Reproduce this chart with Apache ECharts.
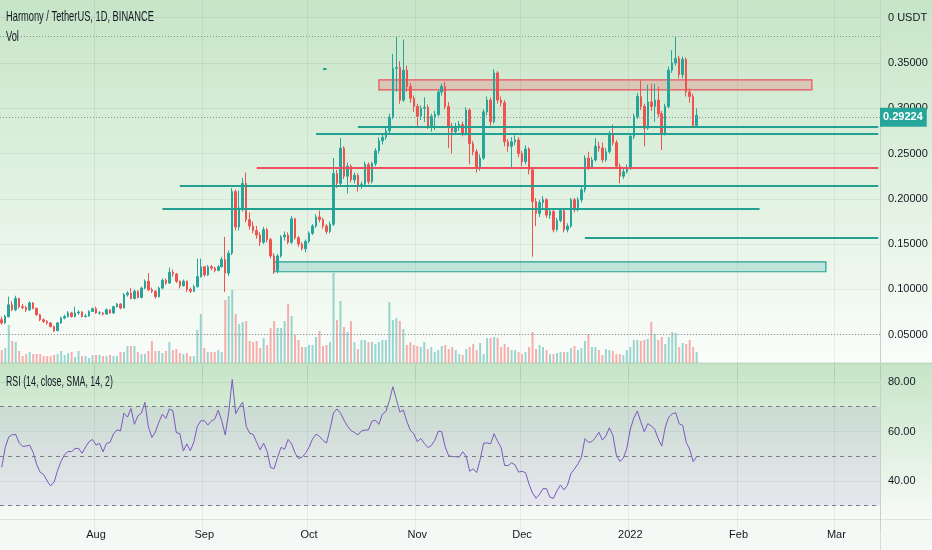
<!DOCTYPE html>
<html><head><meta charset="utf-8">
<script src="https://cdn.jsdelivr.net/npm/echarts@6/dist/echarts.min.js"></script>
<style>html,body{margin:0;padding:0;background:#fff}#c{width:932px;height:550px}</style>
</head><body><div id="c"></div>
<script>
// ---------- data ----------
const startDate = [2021, 6, 5];      // 2021-07-05, first daily candle
const totalDays = 252;               // visible time range up to 2022-03-13
const firstOpen = 0.0666;
const closes = [
0.0630,0.0700,0.0830,0.0775,0.0900,0.0810,0.0800,0.0775,0.0850,0.0790,
0.0720,0.0665,0.0647,0.0630,0.0590,0.0544,0.0630,0.0684,0.0700,0.0740,
0.0700,0.0740,0.0750,0.0700,0.0706,0.0757,0.0787,0.0740,0.0740,0.0728,
0.0775,0.0740,0.0810,0.0838,0.0794,0.0940,0.0960,0.0900,0.0980,0.0912,
0.1015,0.1090,0.0996,0.0980,0.0920,0.1015,0.1100,0.1070,0.1190,0.1170,
0.1090,0.1040,0.1090,0.1000,0.0980,0.1030,0.1140,0.1250,0.1160,0.1250,
0.1235,0.1210,0.1250,0.1330,0.1180,0.1400,0.2080,0.1690,0.1900,0.2170,
0.1770,0.1700,0.1650,0.1600,0.1520,0.1660,0.1550,0.1370,0.1210,0.1370,
0.1580,0.1600,0.1520,0.1780,0.1570,0.1500,0.1450,0.1530,0.1620,0.1700,
0.1800,0.1770,0.1700,0.1640,0.1720,0.2280,0.2170,0.2560,0.2250,0.2360,
0.2210,0.2260,0.2140,0.2160,0.2380,0.2190,0.2390,0.2530,0.2640,0.2680,
0.2750,0.2900,0.3440,0.3450,0.3090,0.3420,0.3240,0.3110,0.3020,0.2910,
0.3000,0.3010,0.2800,0.2910,0.2930,0.3180,0.3240,0.3020,0.2800,0.2740,
0.2800,0.2820,0.2720,0.2980,0.2610,0.2520,0.2350,0.2450,0.2960,0.3090,
0.2850,0.3390,0.3090,0.3060,0.2630,0.2580,0.2630,0.2650,0.2500,0.2410,
0.2550,0.2320,0.1970,0.1840,0.1960,0.1990,0.1820,0.1860,0.1660,0.1760,
0.1870,0.1660,0.1700,0.1990,0.1880,0.1990,0.2100,0.2450,0.2350,0.2430,
0.2580,0.2560,0.2430,0.2520,0.2720,0.2620,0.2360,0.2250,0.2300,0.2340,
0.2690,0.2910,0.3130,0.3020,0.2780,0.3070,0.3020,0.3090,0.2940,0.2720,
0.3020,0.3420,0.3500,0.3550,0.3370,0.3540,0.3180,0.3130,0.2810,0.29224];
const highs = [
.070,.072,.092,.087,.093,.091,.084,.082,.087,.086,
.080,.073,.068,.066,.064,.060,.064,.070,.072,.076,
.075,.081,.077,.076,.073,.077,.080,.081,.076,.075,
.079,.078,.082,.085,.085,.096,.098,.1015,.100,.099,
.103,.111,.118,.102,.099,.103,.112,.112,.124,.122,
.118,.110,.111,.110,.102,.105,.134,.134,.126,.127,
.127,.125,.127,.136,.158,.143,.212,.210,.209,.223,
.229,.185,.175,.170,.163,.169,.168,.157,.140,.139,
.160,.164,.163,.181,.179,.159,.152,.155,.164,.172,
.183,.187,.179,.172,.175,.245,.232,.267,.258,.240,
.238,.229,.228,.219,.241,.240,.241,.256,.268,.272,
.279,.294,.360,.379,.352,.376,.347,.328,.314,.305,
.303,.312,.304,.294,.297,.321,.327,.329,.307,.284,
.284,.286,.285,.301,.300,.264,.255,.249,.299,.313,
.312,.343,.341,.313,.309,.266,.268,.270,.268,.253,
.259,.257,.235,.201,.199,.203,.201,.190,.188,.179,
.190,.189,.173,.201,.201,.202,.213,.248,.252,.246,
.267,.263,.262,.256,.275,.282,.265,.239,.233,.238,
.272,.294,.317,.331,.305,.326,.327,.327,.324,.297,
.305,.346,.364,.379,.358,.357,.356,.322,.316,.300];
const lows = [
.061,.062,.069,.076,.076,.079,.078,.075,.076,.078,
.071,.065,.063,.061,.058,.053,.054,.062,.067,.069,
.069,.069,.072,.069,.069,.070,.075,.073,.072,.071,
.072,.073,.073,.080,.078,.079,.092,.089,.089,.090,
.090,.100,.098,.096,.090,.091,.100,.105,.106,.114,
.107,.101,.103,.097,.096,.097,.102,.113,.114,.115,
.121,.119,.120,.124,.097,.115,.138,.165,.165,.186,
.174,.166,.162,.156,.148,.150,.152,.134,.117,.118,
.135,.154,.150,.150,.155,.147,.143,.141,.151,.160,
.168,.174,.167,.161,.162,.170,.212,.215,.222,.206,
.218,.217,.208,.211,.214,.216,.217,.236,.250,.260,
.265,.272,.288,.318,.305,.307,.318,.306,.296,.280,
.287,.285,.277,.274,.276,.291,.314,.299,.256,.250,
.271,.275,.269,.270,.238,.248,.229,.231,.243,.292,
.281,.283,.305,.302,.258,.252,.235,.259,.246,.236,
.238,.227,.136,.170,.180,.190,.179,.178,.163,.164,
.174,.163,.163,.168,.185,.186,.196,.207,.232,.233,
.241,.252,.240,.241,.250,.259,.233,.217,.222,.228,
.232,.266,.288,.298,.258,.276,.297,.285,.290,.254,
.270,.300,.339,.347,.333,.333,.313,.306,.279,.279];
const volumes = [ // millions
130,150,380,220,210,120,70,90,110,90,
90,90,70,70,70,80,90,120,80,100,
110,60,120,70,70,50,80,80,80,70,
70,80,70,70,110,110,170,170,170,110,
90,90,120,220,120,120,100,
120,210,130,140,100,90,100,70,70,330,
490,150,110,110,110,130,110,630,670,730,
490,390,410,420,220,210,220,150,250,180,
350,420,350,350,420,590,470,280,230,
160,160,180,180,260,320,170,180,210,900,
430,620,360,310,420,210,140,230,230,210,
210,190,210,230,230,610,430,450,420,340,
180,210,180,170,160,210,140,160,110,130,
170,180,140,160,130,90,80,140,160,190,
130,200,90,250,250,260,250,160,190,160,
130,130,110,90,110,160,310,
140,180,160,130,90,90,100,110,110,110,150,170,130,
150,220,290,160,160,130,80,140,130,120,90,90,80,
130,160,230,230,220,230,240,410,290,230,260,190,260,310,300,160,200,190,230,160,110];
const rsiValues = [
45.5,53.6,57.8,58.7,58.8,55.4,54.0,54.1,54.5,51.5,
46.7,43.5,42.6,40.0,38.0,39.6,44.3,48.0,50.7,51.9,
51.9,53.1,53.2,51.2,53.7,55.9,56.8,54.5,55.2,51.8,
55.2,55.6,59.0,60.7,60.2,67.4,65.8,69.3,62.9,66.4,
67.4,71.8,61.8,57.6,59.8,63.8,67.0,65.3,69.1,68.4,
59.5,59.2,52.1,55.0,52.2,55.7,62.1,64.3,64.4,62.6,
64.2,65.0,68.6,64.3,58.6,67.8,81.0,67.2,69.8,71.9,
62.1,59.3,58.8,55.6,52.6,55.3,51.9,45.4,45.0,49.6,
53.6,52.8,56.8,55.0,51.3,49.1,49.6,51.2,53.6,57.0,
58.9,58.0,56.4,55.3,61.0,67.5,69.1,67.5,64.6,62.2,
60.4,59.6,58.6,60.2,60.6,60.6,64.1,64.6,62.9,67.0,
68.1,72.4,78.1,73.0,67.9,68.6,64.1,60.5,59.1,55.9,
57.2,55.2,53.5,54.3,56.4,60.1,59.9,53.7,50.2,49.9,
49.8,49.7,51.8,50.0,44.0,44.9,43.4,48.7,55.3,55.4,
55.0,59.1,56.0,53.5,46.3,46.2,47.4,46.5,43.6,43.9,
43.4,38.7,35.1,33.0,34.6,36.9,36.9,33.4,33.0,36.1,
38.4,36.4,38.3,43.0,44.8,46.9,49.6,57.1,55.6,55.9,
57.5,59.7,56.5,58.2,61.5,58.5,50.5,47.9,49.2,53.2,
61.0,65.4,68.3,63.9,59.9,63.2,62.2,60.9,57.0,54.1,
61.7,65.8,67.1,67.6,63.1,62.5,55.6,52.8,47.8,49.8];
const monthLabels = {'2021-08-01':'Aug','2021-09-01':'Sep','2021-10-01':'Oct','2021-11-01':'Nov',
  '2021-12-01':'Dec','2022-01-01':'2022','2022-02-01':'Feb','2022-03-01':'Mar'};
// drawn zones: [from, to, top, bottom, colour kind]
const zones = [
  ['2021-10-21','2022-02-22',0.3313,0.3202,'red'],
  ['2021-09-21','2022-02-26',0.1305,0.1195,'teal']];
// drawn horizontal lines: [from, to, price, colour kind]
const levels = [
  ['2021-10-15','2022-03-13',0.2797,'teal'],
  ['2021-10-03','2022-03-13',0.2720,'teal'],
  ['2021-09-16','2022-03-13',0.2345,'red'],
  ['2021-08-25','2022-03-13',0.2147,'teal'],
  ['2021-08-20','2022-02-07',0.1890,'teal'],
  ['2021-12-19','2022-03-13',0.1570,'teal'],
  ['2021-10-05','2021-10-06',0.3434,'teal']];
const dottedLevels = [0.3785, 0.0520];
const lastPrice = 0.29224;

// ---------- build ----------
const FONT = "'Liberation Sans',Arial,sans-serif";
const UP = '#26a69a', DOWN = '#ef5350', TXT = '#131722';
const dates = [];
const t0 = Date.UTC(startDate[0], startDate[1], startDate[2]);
for (let i = 0; i < totalDays; i++) dates.push(new Date(t0 + i * 86400000).toISOString().slice(0, 10));
const opens = closes.map((c, i) => i === 0 ? firstOpen : closes[i - 1]);
const candleData = closes.map((c, i) => [opens[i], c, lows[i], highs[i]]);
const volData = volumes.map((v, i) => ({value: v, itemStyle: {color: closes[i] >= opens[i] ? 'rgba(38,166,154,0.45)' : 'rgba(239,83,80,0.45)'}}));
const kindColor = {teal: '#22a193', red: '#ee4f5c'};
const zoneFill = {teal: 'rgba(38,166,154,0.22)', red: 'rgba(242,54,69,0.2)'};

const markAreaData = zones.map(z => [
  {coord: [z[0], z[2]], itemStyle: {color: zoneFill[z[4]], borderColor: kindColor[z[4]], borderWidth: 1.2}},
  {coord: [z[1], z[3]]}]);
const markLineData = levels.map(l => [
  {coord: [l[0], l[2]], lineStyle: {color: kindColor[l[3]], width: 2, type: 'solid'}},
  {coord: [l[1], l[2]]}]);
dottedLevels.forEach(v => markLineData.push({yAxis: v, lineStyle: {color: '#8f9196', width: 1, type: [1, 2]}}));
markLineData.push({yAxis: lastPrice, lineStyle: {color: '#8f9196', width: 1, type: [1, 2]},
  label: {show: true, position: 'end', distance: 0, formatter: lastPrice.toFixed(5),
    backgroundColor: UP, color: '#fff', padding: [4, 4, 4, 3], fontSize: 11, fontFamily: FONT, fontWeight: 'bold'}});

const isMonth = (idx, val) => monthLabels[val] !== undefined;
const faint = 'rgba(42,46,57,0.07)';
const titleText = (txt, left, top, sx) => ({type: 'text', z: 100, left: left, top: top, scaleX: sx, scaleY: 1,
  style: {text: txt, fontSize: 14, fontFamily: FONT, fill: TXT}});

const option = {
  animation: false,
  graphic: [
    {type: 'rect', z: -100, shape: {x: 0, y: 0, width: 932, height: 364},
      style: {fill: new echarts.graphic.LinearGradient(0, 0, 0, 1, [
        {offset: 0, color: '#c6e5c7'}, {offset: 0.5, color: '#e0f1e0'}, {offset: 1, color: '#fbfdfb'}])}},
    {type: 'rect', z: -100, shape: {x: 0, y: 364, width: 932, height: 155},
      style: {fill: new echarts.graphic.LinearGradient(0, 0, 0, 1, [
        {offset: 0, color: '#c6e5c7'}, {offset: 1, color: '#f7faf7'}])}},
    {type: 'rect', z: -100, shape: {x: 0, y: 519, width: 932, height: 31}, style: {fill: '#f5f9f5'}},
    {type: 'rect', z: -99, shape: {x: 0, y: 362.5, width: 932, height: 2}, style: {fill: '#bfdcc0'}},
    {type: 'line', z: -99, shape: {x1: 0, y1: 519.5, x2: 932, y2: 519.5}, style: {stroke: '#dde3dd', lineWidth: 1}},
    {type: 'line', z: -99, shape: {x1: 880.5, y1: 0, x2: 880.5, y2: 550}, style: {stroke: '#d6ddd6', lineWidth: 1}},
    titleText('Harmony / TetherUS, 1D, BINANCE', 6, 10, 0.665),
    titleText('Vol', 6, 30, 0.665),
    titleText('RSI (14, close, SMA, 14, 2)', 6, 375, 0.63)
  ],
  grid: [
    {left: 0, right: 52, top: 0, height: 380, outerBoundsMode: 'none'},
    {left: 0, right: 52, top: 366, height: 164.5, outerBoundsMode: 'none'}
  ],
  xAxis: [
    {type: 'category', gridIndex: 0, data: dates, boundaryGap: true,
      axisLine: {show: false}, axisTick: {show: false}, axisLabel: {show: false},
      splitLine: {show: true, interval: isMonth, lineStyle: {color: faint}}},
    {type: 'category', gridIndex: 1, data: dates, boundaryGap: true,
      axisLine: {show: false}, axisTick: {show: false},
      axisLabel: {show: true, interval: isMonth, formatter: v => monthLabels[v] || '', margin: -1,
        color: TXT, fontSize: 11, fontFamily: FONT},
      splitLine: {show: true, interval: isMonth, lineStyle: {color: faint}}}
  ],
  yAxis: [
    {type: 'value', gridIndex: 0, position: 'right', min: 0, max: 0.4195, interval: 0.05, scale: false,
      axisLine: {show: false}, axisTick: {show: false},
      axisLabel: {margin: 8, color: TXT, fontSize: 11, fontFamily: FONT, showMinLabel: false, showMaxLabel: false,
        formatter: v => Math.abs(v - 0.4) < 1e-6 ? '0 USDT' : v.toFixed(5)},
      splitLine: {show: true, showMinLine: false, showMaxLine: false, lineStyle: {color: faint}}},
    {type: 'value', gridIndex: 0, min: -170, max: 3630, show: false, splitLine: {show: false}},
    {type: 'value', gridIndex: 1, position: 'right', min: 20, max: 86.46, interval: 20,
      axisLine: {show: false}, axisTick: {show: false},
      axisLabel: {margin: 8, color: TXT, fontSize: 11, fontFamily: FONT, showMinLabel: false, showMaxLabel: false,
        formatter: v => v.toFixed(2)},
      splitLine: {show: true, showMinLine: false, showMaxLine: false, lineStyle: {color: faint}}}
  ],
  series: [
    {type: 'bar', name: 'Vol', xAxisIndex: 0, yAxisIndex: 1, data: volData, barWidth: 2, z: 1},
    {type: 'candlestick', name: 'ONEUSDT', xAxisIndex: 0, yAxisIndex: 0, data: candleData, barWidth: 2, z: 3,
      itemStyle: {color: UP, color0: DOWN, borderColor: UP, borderColor0: DOWN, borderWidth: 1},
      markArea: {silent: true, z: 1, data: markAreaData},
      markLine: {silent: true, symbol: ['none', 'none'], z: 5, label: {show: false}, data: markLineData}},
    {type: 'line', name: 'RSI', xAxisIndex: 1, yAxisIndex: 2, data: rsiValues, symbol: 'none',
      lineStyle: {color: '#7e57c2', width: 1}, z: 3,
      markArea: {silent: true, itemStyle: {color: 'rgba(126,87,194,0.1)'}, data: [[{yAxis: 70}, {yAxis: 30}]]},
      markLine: {silent: true, symbol: ['none', 'none'], label: {show: false},
        lineStyle: {color: '#787b86', width: 1, type: [4, 4]},
        data: [{yAxis: 70}, {yAxis: 50}, {yAxis: 30}]}}
  ]
};
const chart = echarts.init(document.getElementById('c'));
chart.setOption(option);
</script></body></html>
